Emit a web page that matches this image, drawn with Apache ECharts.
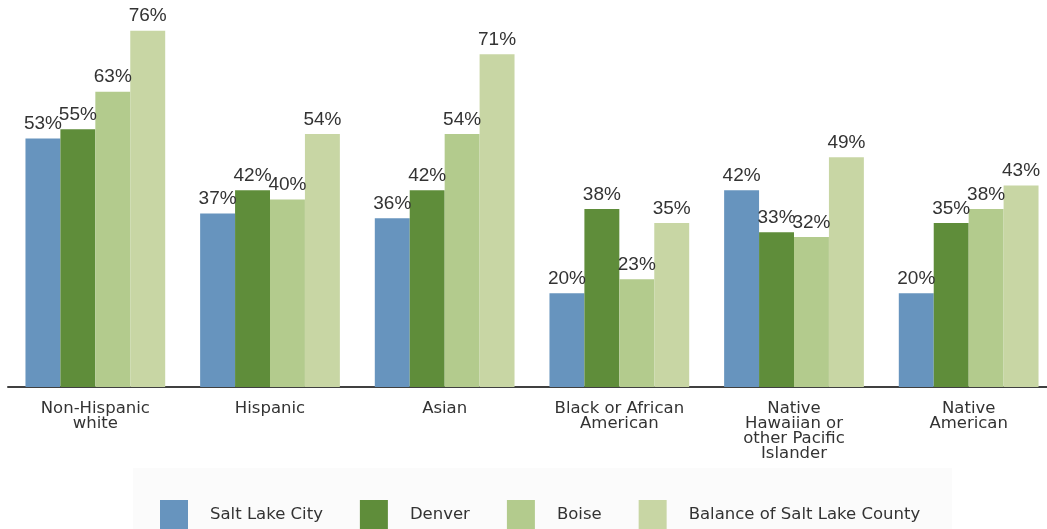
<!DOCTYPE html>
<html>
<head>
<meta charset="utf-8">
<script src="https://cdn.jsdelivr.net/npm/echarts@6/dist/echarts.min.js"></script>
<style>
  html, body { margin: 0; padding: 0; background: #fff; }
  #chart { width: 1047px; height: 529px; }
</style>
</head>
<body>
<div id="chart"></div>
<script>
// groups along the x axis
const categories = [
  'Non-Hispanic\nwhite',
  'Hispanic',
  'Asian',
  'Black or African\nAmerican',
  'Native\nHawaiian or\nother Pacific\nIslander',
  'Native\nAmerican'
]

const seriesNames = ['Salt Lake City', 'Denver', 'Boise', 'Balance of Salt Lake County']

// percent values
const saltLakeCity = [53, 37, 36, 20, 42, 20]
const denver = [55, 42, 42, 38, 33, 35]
const boise = [63, 40, 54, 23, 32, 38]
const balanceSLC = [76, 54, 71, 35, 49, 43]

const colors = ['#6794be', '#5f8d3a', '#b3cb8d', '#c8d6a4']

const chart = echarts.init(document.getElementById('chart'))

const values = [saltLakeCity, denver, boise, balanceSLC]

chart.setOption({
  animation: false,
  color: colors,
  graphic: [{
    type: 'rect',
    left: 133, top: 468,
    shape: { width: 819, height: 61 },
    style: { fill: '#fbfbfb' },
    z: -10
  }],
  // plot runs a bit past the right edge, like the original
  grid: { left: 8, width: 1048, top: 12, bottom: 142, outerBoundsMode: 'none' },
  legend: {
    left: 160,
    top: 500,
    padding: 0,
    itemWidth: 28,
    itemHeight: 30,
    itemGap: 37,
    icon: 'rect',
    textStyle: {
      fontFamily: 'DejaVu Sans',
      fontSize: 16.5,
      color: '#333',
      padding: [0, 0, 0, 17]
    },
    data: seriesNames
  },
  xAxis: {
    type: 'category',
    data: categories,
    axisLine: { lineStyle: { color: '#404040', width: 2 } },
    axisTick: { length: 6, lineStyle: { color: '#404040' } },
    axisLabel: {
      margin: 14,
      fontFamily: 'DejaVu Sans',
      fontSize: 16.5,
      lineHeight: 15,
      color: '#333',
      interval: 0
    }
  },
  yAxis: {
    type: 'value',
    min: 0,
    max: 80,
    show: false
  },
  series: values.map((v, i) => ({
    name: seriesNames[i],
    type: 'bar',
    data: v,
    barGap: 0,
    barCategoryGap: '20%',
    label: {
      show: true,
      position: 'top',
      distance: 5,
      formatter: '{c}%',
      fontFamily: 'Liberation Sans',
      fontSize: 19,
      color: '#333'
    }
  }))
})
</script>
</body>
</html>
